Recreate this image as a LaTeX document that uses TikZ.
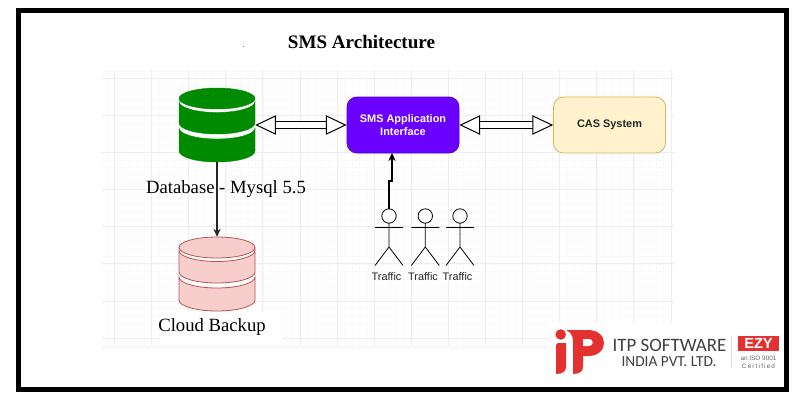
\documentclass[tikz,border=0pt]{standalone}
\usepackage{fontspec}
\setmainfont{Liberation Serif}
\newfontfamily\hv{Liberation Sans}
\newfontfamily\crl{Carlito}
\usetikzlibrary{arrows.meta}
\definecolor{gmin}{HTML}{F9F9F9}
\definecolor{gmaj}{HTML}{EDEDED}
\definecolor{dbg}{HTML}{008A00}
\definecolor{pk}{HTML}{F8CECC}
\definecolor{pkl}{HTML}{B85450}
\definecolor{vio}{HTML}{6A00FF}
\definecolor{cream}{HTML}{FFF2CC}
\definecolor{creaml}{HTML}{D6B656}
\definecolor{itp}{HTML}{E2312F}
\tikzset{
  x=0.75pt,y=-0.75pt,
  box/.style={rounded corners=7.5pt,minimum width=84pt,minimum height=42pt,align=center,font=\hv\bfseries\fontsize{8.2}{9.75}\selectfont,line width=.6pt},
  serlab/.style={font=\fontsize{14}{16}\selectfont,text=black,inner sep=0pt},
  trl/.style={font=\hv\fontsize{8.2}{9}\selectfont,text=black!85,inner sep=0pt},
  conn/.style={line width=.8pt,-{Stealth[length=6pt,width=5.5pt]}},
  dbl/.style={double,double distance=4.5pt,line width=.75pt,{Stealth[open,fill=white,length=15.5pt,width=14.5pt,inset=0pt]}-{Stealth[open,fill=white,length=15.5pt,width=14.5pt,inset=0pt]}},
}
% cylinder: centre x, top y
\newcommand{\dbcyl}[3]{%
  \begin{scope}[shift={(#1,#2)}]
    \draw[#3] (-38,40) arc[x radius=38,y radius=-11,start angle=180,end angle=360] -- (38,63) arc[x radius=38,y radius=-11,start angle=0,end angle=-180] -- cycle;
    \draw[#3] (-38,13.5) arc[x radius=38,y radius=-11,start angle=180,end angle=360] -- (38,35) arc[x radius=38,y radius=-11,start angle=0,end angle=-180] -- cycle;
    \draw[#3] (0,10.5) ellipse[x radius=38,y radius=10.5];
  \end{scope}}
\newcommand{\actor}[2]{%
  \draw[line width=.6pt,black] (#1,#2) circle[radius=7.2]
    (#1-14,#2+11.5) -- (#1+14,#2+11.5)
    (#1,#2+7.2) -- (#1,#2+31)
    (#1-14,#2+49.5) -- (#1,#2+31) -- (#1+14,#2+49.5);}
\begin{document}
\begin{tikzpicture}
\useasboundingbox (0,0) rectangle (812,404);
\fill[white] (0,0) rectangle (812,404);
% grid
\foreach \i in {0,...,76} \draw[gmin,line width=.4pt] ({107.1+7.42*\i},70) -- ({107.1+7.42*\i},345);
\foreach \i in {0,...,37} \draw[gmin,line width=.4pt] (102,{70.9+7.42*\i}) -- (674,{70.9+7.42*\i});
\foreach \i in {0,...,15} \draw[gmaj,line width=.5pt] ({114.4+37.1*\i},70) -- ({114.4+37.1*\i},345);
\foreach \i in {0,...,7} \draw[gmaj,line width=.5pt] (102,{78.3+37.1*\i}) -- (674,{78.3+37.1*\i});
\fill[gmin] (102,345) rectangle (674,349);
\fill[white] (160,312) rectangle (282,345);
\fill[white] (550,323) rectangle (784,387);
\draw[black,line width=3.75pt] (18.5,10.5) rectangle (786.5,389.5);
% title
\node[font=\bfseries\fontsize{14.3}{16}\selectfont,inner sep=0pt] (title) at (361.5,42) {SMS Architecture};
\fill[black!60] (243,46) rectangle (244,47);
% shapes
\node[inner sep=0pt,minimum width=57pt,minimum height=55.5pt] (db) at (217,125) {};
\dbcyl{217}{88}{fill=dbg,draw=dbg,line width=.3pt}
\node[inner sep=0pt,minimum width=57pt,minimum height=55.5pt] (bk) at (217,274) {};
\dbcyl{217}{237}{fill=pk,draw=pkl,line width=.6pt}
\node[box,fill=vio,draw=vio!80!black,text=white] (sms) at (403,125) {SMS Application\\Interface};
\node[box,fill=cream,draw=creaml,text=black!85] (cas) at (609.5,125) {CAS System};
\coordinate (a1) at (389,209);
\coordinate (smsin) at (392,153);
\actor{389}{216}
\actor{425.3}{216}
\actor{460}{216}
% connectors
\draw[dbl] (db.east) -- (sms.west);
\draw[dbl] (sms.east) -- (cas.west);
\draw[conn,black!85] (db.south) -- (bk.north);
\draw[conn,black] (a1) -- (389,181) -- (392,181) -- (smsin);
% labels
\node[serlab] (dblab) at (226,189.5) {Database - Mysql 5.5};
\node[serlab] (bkl) at (212,327) {Cloud Backup};
\node[trl] (t1) at (386.5,277) {Traffic};
\node[trl] (t2) at (423,277) {Traffic};
\node[trl] (t3) at (457.5,277) {Traffic};
% logo
\fill[itp] (560.7,334.5) circle[radius=5.3];
\fill[itp] (556,346) .. controls (556,343.5) and (557,343) .. (559,343) -- (566,343) -- (566,367) .. controls (566,371) and (563,374) .. (556,374) -- cycle;
\fill[itp] (566,330) -- (588,330) .. controls (598,330) and (604,336) .. (604,343) .. controls (604,350) and (598,356) .. (588,356) -- (583,356) -- (583,367) .. controls (583,371) and (580,374) .. (573,374) -- (573,341) .. controls (573,335) and (570,332) .. (566,330) -- cycle;
\fill[white] (583,339) -- (589,339) .. controls (594,339) and (594,346) .. (589,346) -- (583,346) -- cycle;
\node[font=\crl\fontsize{14.2}{15}\selectfont,inner sep=0pt,text=black!75] (l1) at (669.5,345) {ITP SOFTWARE};
\node[font=\crl\fontsize{11.5}{12}\selectfont,inner sep=0pt,text=black!75] (l2) at (669,362) {INDIA PVT. LTD.};
\draw[black!15,line width=.5pt] (731,336) -- (731,368);
\node[fill=itp,text=white,font=\hv\bfseries\fontsize{11}{11}\selectfont,inner sep=0pt,minimum width=30.75pt,minimum height=11pt] (l3) at (758.5,343.5) {EZY};
\node[font=\hv\fontsize{4.8}{6}\selectfont,inner sep=0pt,text=black!60] (l4) at (758.5,358) {an ISO 9001};
\node[font=\hv\fontsize{4.8}{6}\selectfont\addfontfeature{LetterSpace=18},inner sep=0pt,text=black!60] (l5) at (758.5,366) {Certified};
\end{tikzpicture}
\end{document}
